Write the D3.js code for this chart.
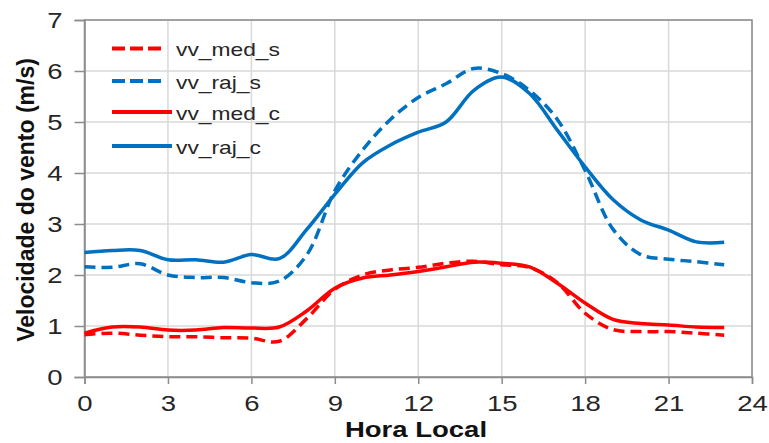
<!DOCTYPE html>
<html>
<head>
<meta charset="utf-8">
<script src="https://cdn.jsdelivr.net/npm/d3@7"></script>
<style>
  html, body { margin: 0; padding: 0; background: #fff; }
  svg { display: block; font-family: "Liberation Sans", Arial, sans-serif; }
</style>
</head>
<body>
<svg id="chart" width="769" height="443"></svg>
<script>
// Hourly wind speed (m/s), local time 0..23
const hours = d3.range(0, 24);
const vvMedS = [0.83, 0.86, 0.82, 0.79, 0.79, 0.77, 0.76, 0.70, 1.15, 1.72, 2.00, 2.10, 2.15, 2.23, 2.27, 2.20, 2.15, 1.85, 1.25, 0.93, 0.89, 0.89, 0.86, 0.82];
const vvRajS = [2.16, 2.15, 2.22, 2.00, 1.95, 1.95, 1.85, 1.88, 2.40, 3.65, 4.45, 5.05, 5.48, 5.75, 6.05, 5.95, 5.62, 5.05, 4.05, 2.90, 2.40, 2.31, 2.26, 2.20];
const vvMedC = [0.86, 0.98, 0.98, 0.92, 0.92, 0.97, 0.96, 0.98, 1.30, 1.74, 1.94, 2.00, 2.07, 2.16, 2.25, 2.23, 2.16, 1.84, 1.45, 1.13, 1.05, 1.02, 0.98, 0.97];
const vvRajC = [2.44, 2.48, 2.48, 2.30, 2.30, 2.25, 2.40, 2.32, 2.90, 3.58, 4.20, 4.55, 4.80, 5.00, 5.62, 5.88, 5.56, 4.84, 4.12, 3.48, 3.08, 2.88, 2.65, 2.64];

const xTicks = [0, 3, 6, 9, 12, 15, 18, 21, 24];
const yTicks = [0, 1, 2, 3, 4, 5, 6, 7];

const series = [
  { name: "vv_med_s", values: vvMedS, color: "#ff0000", dashed: true },
  { name: "vv_raj_s", values: vvRajS, color: "#0070c0", dashed: true },
  { name: "vv_med_c", values: vvMedC, color: "#ff0000", dashed: false },
  { name: "vv_raj_c", values: vvRajC, color: "#0070c0", dashed: false }
];

const svg = d3.select("#chart");
const m = { left: 84.5, right: 752, top: 20, bottom: 377 };

const x = d3.scaleLinear().domain([0, 24]).range([m.left, m.right]);
const y = d3.scaleLinear().domain([0, 7]).range([m.bottom, m.top]);

const textColor = "#262626";
const fontStack = "'Liberation Sans', Arial, sans-serif";

// widen horizontal text glyphs a little (wide-set chart lettering)
function widen(sel, k) {
  sel.each(function () {
    const w = this.getComputedTextLength();
    d3.select(this).attr("textLength", w * k).attr("lengthAdjust", "spacingAndGlyphs");
  });
}

// grid
const grid = svg.append("g");
grid.selectAll("line.v").data(xTicks.slice(1)).join("line")
  .attr("x1", d => x(d)).attr("x2", d => x(d))
  .attr("y1", m.top).attr("y2", m.bottom)
  .attr("stroke", "#d9d9d9").attr("stroke-width", 1.5);
grid.selectAll("line.h").data(yTicks.slice(1)).join("line")
  .attr("x1", m.left).attr("x2", m.right)
  .attr("y1", d => y(d)).attr("y2", d => y(d))
  .attr("stroke", "#d9d9d9").attr("stroke-width", 1.5);

// plot frame
svg.append("rect")
  .attr("x", m.left).attr("y", m.top)
  .attr("width", m.right - m.left).attr("height", m.bottom - m.top)
  .attr("fill", "none").attr("stroke", "#8c8c8c").attr("stroke-width", 1.5);

// axes
const xAxis = svg.append("g")
  .attr("transform", `translate(0,${m.bottom})`)
  .call(d3.axisBottom(x).tickValues(xTicks).tickSize(7).tickPadding(11).tickFormat(d3.format("d")));
const yAxis = svg.append("g")
  .attr("transform", `translate(${m.left},0)`)
  .call(d3.axisLeft(y).tickValues(yTicks).tickSize(10).tickPadding(12).tickFormat(d3.format("d")));

[xAxis, yAxis].forEach(a => {
  a.select(".domain").attr("stroke", "#8c8c8c").attr("stroke-width", 1.5);
  a.selectAll(".tick line").attr("stroke", "#8c8c8c").attr("stroke-width", 1.5);
  a.selectAll(".tick text").attr("fill", textColor)
    .style("font-size", "22px").style("font-family", fontStack)
    .call(widen, 1.25);
});

// lines
const line = d3.line()
  .x((d, i) => x(hours[i]))
  .y(d => y(d))
  .curve(d3.curveCatmullRom.alpha(0.5));

svg.append("g").selectAll("path").data(series).join("path")
  .attr("d", d => line(d.values))
  .attr("fill", "none")
  .attr("stroke", d => d.color)
  .attr("stroke-width", 3.5)
  .attr("stroke-linejoin", "round")
  .attr("stroke-dasharray", d => d.dashed ? "11,6" : null);

// legend
const legend = svg.append("g");
const legY = [48.5, 81, 112, 146];
series.forEach((s, i) => {
  legend.append("line")
    .attr("x1", 112).attr("x2", s.dashed ? 166 : 172)
    .attr("y1", legY[i]).attr("y2", legY[i])
    .attr("stroke", s.color).attr("stroke-width", 4)
    .attr("stroke-dasharray", s.dashed ? "13,5" : null);
  legend.append("text")
    .attr("x", 176).attr("y", legY[i] + 7.5)
    .attr("fill", textColor)
    .style("font-size", "19px").style("font-family", fontStack)
    .text(s.name)
    .call(widen, 1.2);
});

// axis titles
svg.append("text")
  .attr("x", 416)
  .attr("y", 437)
  .attr("text-anchor", "middle")
  .attr("fill", "#111")
  .style("font-size", "22px").style("font-weight", "bold").style("font-family", fontStack)
  .text("Hora Local")
  .call(widen, 1.25);

svg.append("text")
  .attr("transform", `translate(34,200) rotate(-90)`)
  .attr("text-anchor", "middle")
  .attr("fill", "#111")
  .style("font-size", "23px").style("font-weight", "bold").style("font-family", fontStack)
  .text("Velocidade do vento (m/s)");
</script>
</body>
</html>
